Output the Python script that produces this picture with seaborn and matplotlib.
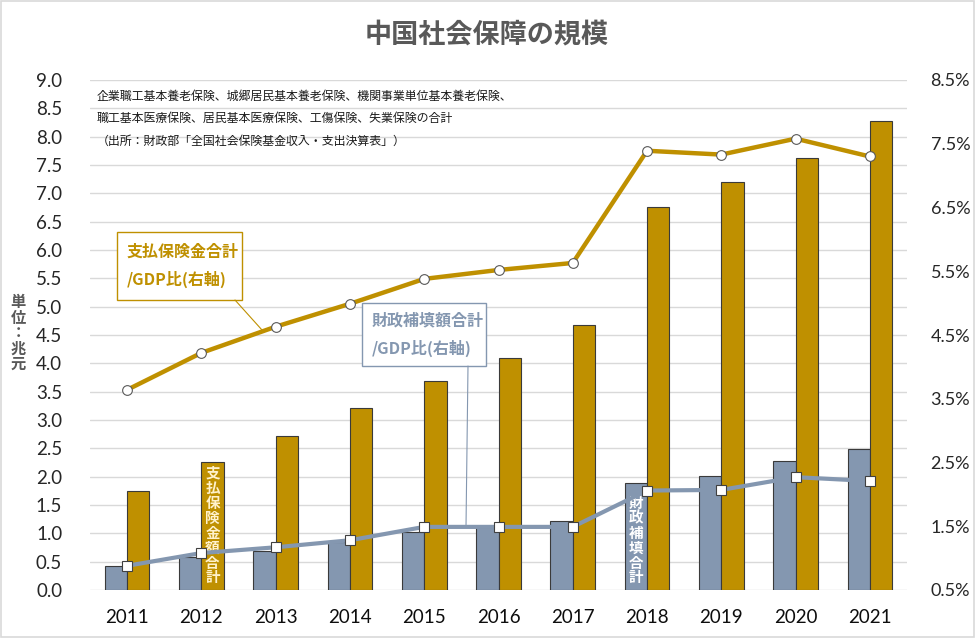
import numpy as np
import pandas as pd
import matplotlib
matplotlib.use('Agg')
import matplotlib.pyplot as plt
from matplotlib.patches import Rectangle
from matplotlib.lines import Line2D
import seaborn as sns

# values
years = ['2011', '2012', '2013', '2014', '2015', '2016', '2017', '2018', '2019', '2020', '2021']
benefit_total = [1.75, 2.26, 2.72, 3.21, 3.69, 4.09, 4.68, 6.76, 7.20, 7.62, 8.28]   # 兆元
subsidy_total = [0.42, 0.58, 0.69, 0.85, 1.03, 1.11, 1.22, 1.88, 2.02, 2.27, 2.49]   # 兆元
benefit_gdp = [3.64, 4.22, 4.63, 4.99, 5.38, 5.52, 5.63, 7.39, 7.33, 7.58, 7.30]     # %
subsidy_gdp = [0.88, 1.08, 1.17, 1.28, 1.49, 1.49, 1.49, 2.06, 2.07, 2.27, 2.21]     # %

left_ticks = np.arange(0, 9.01, 0.5)
right_ticks = np.arange(0.5, 8.51, 1.0)

title = '中国社会保障の規模'
note_lines = [
    '企業職工基本養老保険、城郷居民基本養老保険、機関事業単位基本養老保険、',
    '職工基本医療保険、居民基本医療保険、工傷保険、失業保険の合計',
    '（出所：財政部「全国社会保険基金収入・支出決算表」）',
]

GOLD = '#BF9000'
BLUE = '#8497B0'
GRAY = '#595959'

sns.set_theme(style='white')
plt.rcParams['font.family'] = ['Noto Sans CJK JP', 'DejaVu Sans']

W, H = 976, 638
fig = plt.figure(figsize=(W / 100, H / 100), dpi=100)

def fx(px):
    return px / W

def fy(py):
    return 1 - py / H

ax = fig.add_axes([fx(90), fy(590), fx(907) - fx(90), fy(80) - fy(590)])

df = pd.DataFrame({
    'year': years * 2,
    'value': subsidy_total + benefit_total,
    'series': ['財政補填額合計'] * len(years) + ['支払保険金額合計'] * len(years),
})
sns.barplot(data=df, x='year', y='value', hue='series', palette=[BLUE, GOLD],
            width=0.6, gap=0, saturation=1, edgecolor='#3a3a3a', linewidth=0.8,
            legend=False, ax=ax, zorder=2)

ax.set_xlim(-0.5, len(years) - 0.5)
ax.set_ylim(0, 9)
ax.set_yticks(left_ticks)
ax.set_yticklabels([f'{v:.1f}' for v in left_ticks])
ax.yaxis.grid(True, color='#D9D9D9', linewidth=1)
ax.xaxis.grid(False)
ax.set_axisbelow(True)
ax.set_xlabel('')
ax.set_ylabel('')
ax.tick_params(axis='y', length=0, pad=20, labelsize=13.5, labelcolor='#262626')
ax.tick_params(axis='x', length=0, pad=14, labelsize=13.5, labelcolor='#0d0d0d')
for lab in ax.get_xticklabels() + ax.get_yticklabels():
    lab.set_fontfamily('Lato')
for s in ax.spines.values():
    s.set_visible(False)

ax2 = ax.twinx()
xpos = np.arange(len(years))
sns.lineplot(x=xpos, y=benefit_gdp, ax=ax2, color=GOLD, linewidth=3.2, sort=False,
             marker='o', markersize=7, markerfacecolor='white',
             markeredgecolor='#595959', markeredgewidth=0.8)
sns.lineplot(x=xpos, y=subsidy_gdp, ax=ax2, color=BLUE, linewidth=3.0, sort=False,
             marker='s', markersize=7, markerfacecolor='white',
             markeredgecolor='#404040', markeredgewidth=0.8)
ax2.set_ylim(0.5, 8.5)
ax2.set_yticks(right_ticks)
ax2.set_yticklabels([f'{v:.1f}%' for v in right_ticks])
ax2.tick_params(axis='y', length=0, pad=17, labelsize=13, labelcolor='#262626')
for lab in ax2.get_yticklabels():
    lab.set_fontfamily('Lato')
ax2.set_ylabel('')
ax2.grid(False)
for s in ax2.spines.values():
    s.set_visible(False)

# vertical labels inside bars
ax.text(1 + 0.15, 0.08, '\n'.join('支払保険金額合計'), ha='center', va='bottom',
        color='#FFF2CC', fontsize=10.5, fontweight='bold', linespacing=0.92, zorder=5)
ax.text(7 - 0.15, 0.08, '\n'.join('財政補填合計'), ha='center', va='bottom',
        color='white', fontsize=10.5, fontweight='bold', linespacing=0.92, zorder=5)

# title, unit and notes
fig.text(fx(487), fy(34), title, ha='center', va='center', fontsize=19.5,
         fontweight='bold', color=GRAY)
fig.text(fx(18), fy(333), '\n'.join('単位：兆元'), ha='center', va='center',
         fontsize=11, fontweight='bold', color=GRAY, linespacing=0.95)
for i, line in enumerate(note_lines):
    fig.text(fx(97), fy(96 + i * 22.5), line, ha='left', va='center',
             fontsize=8.6, color='#1a1a1a')

# callout boxes
fig.add_artist(Rectangle((fx(117), fy(300)), fx(242) - fx(117), fy(232) - fy(300),
                         transform=fig.transFigure, facecolor='white',
                         edgecolor=GOLD, linewidth=1.0, zorder=3))
fig.text(fx(127), fy(252), '支払保険金合計', ha='left', va='center', fontsize=11.5,
         fontweight='bold', color=GOLD, zorder=4)
fig.text(fx(127), fy(279), '/GDP比(右軸)', ha='left', va='center', fontsize=11.5,
         fontweight='bold', color=GOLD, zorder=4)
fig.add_artist(Line2D([fx(235), fx(262)], [fy(300), fy(330)], transform=fig.transFigure,
                      color=GOLD, linewidth=0.8, zorder=3))

fig.add_artist(Rectangle((fx(362), fy(366)), fx(486) - fx(362), fy(303) - fy(366),
                         transform=fig.transFigure, facecolor='white',
                         edgecolor=BLUE, linewidth=1.0, zorder=3))
fig.text(fx(372), fy(320), '財政補填額合計', ha='left', va='center', fontsize=11.5,
         fontweight='bold', color=BLUE, zorder=4)
fig.text(fx(372), fy(348), '/GDP比(右軸)', ha='left', va='center', fontsize=11.5,
         fontweight='bold', color=BLUE, zorder=4)
fig.add_artist(Line2D([fx(468), fx(466)], [fy(366), fy(527)], transform=fig.transFigure,
                      color=BLUE, linewidth=0.8, zorder=3))

# light frame around the chart
fig.add_artist(Rectangle((0.001, 0.002), 0.997, 0.996, transform=fig.transFigure,
                         fill=False, edgecolor='#D9D9D9', linewidth=1.2))

fig.savefig('out.png', dpi=100)
